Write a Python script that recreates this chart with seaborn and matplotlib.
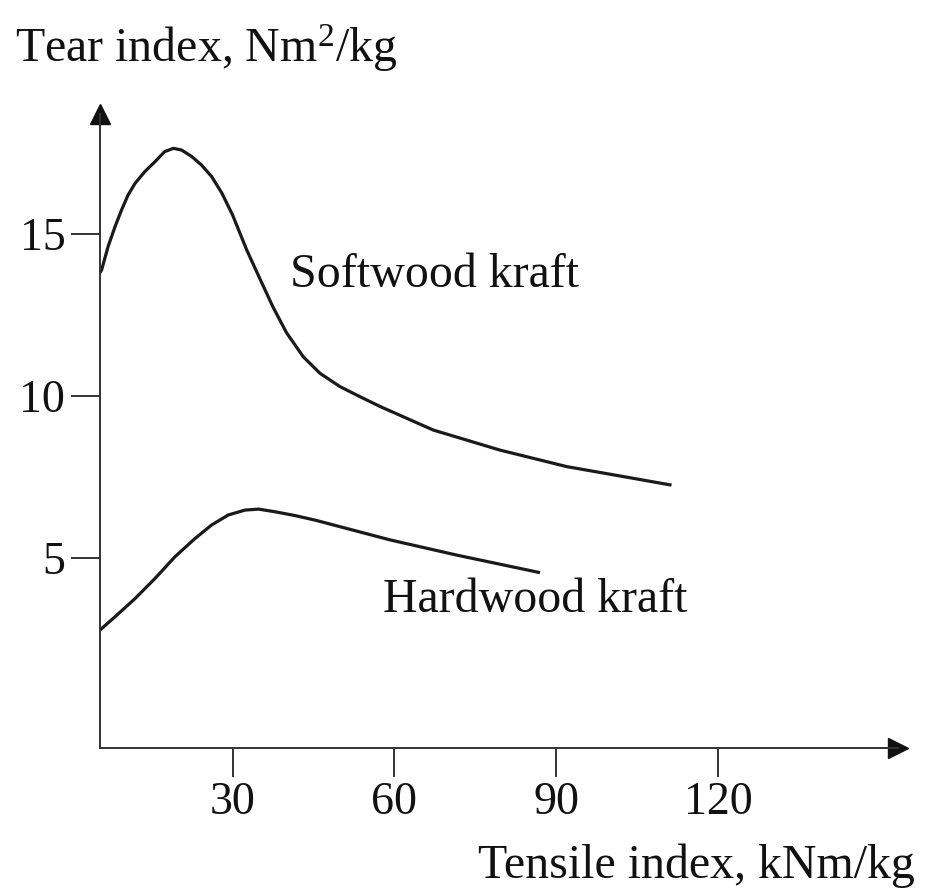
import matplotlib
matplotlib.use("Agg")
import matplotlib.pyplot as plt
import seaborn as sns
import pandas as pd

# values (tensile index kNm/kg, tear index Nm2/kg)
soft_x = [5.4, 5.7, 6.9, 8.2, 9.4, 10.6, 11.9, 13.7, 15.6, 17.4, 19.0, 20.5, 22.4, 24.2,
          26.1, 28.0, 30.0, 32.6, 35.1, 37.5, 40.0, 43.1, 46.2, 49.9, 53.6, 57.3,
          67.2, 79.6, 92.0, 104.3, 111.4]
soft_y = [13.8, 13.89, 14.61, 15.23, 15.74, 16.2, 16.56, 16.92, 17.23, 17.54, 17.64, 17.59,
          17.39, 17.13, 16.77, 16.26, 15.58, 14.51, 13.6, 12.74, 11.95, 11.21, 10.7,
          10.29, 9.98, 9.68, 8.95, 8.33, 7.82, 7.46, 7.25]
hard_x = [5.4, 8.2, 11.9, 15.6, 19.3, 23.0, 26.1, 29.2, 32.3, 34.8, 37.8, 41.6, 45.3,
          59.2, 71.6, 87.0]
hard_y = [2.78, 3.19, 3.75, 4.37, 5.04, 5.6, 6.02, 6.33, 6.48, 6.51, 6.43, 6.31, 6.17,
          5.56, 5.09, 4.55]

x_ticks = [30, 60, 90, 120]
y_ticks = [5, 10, 15]

soft = pd.DataFrame({"x": soft_x, "y": soft_y})
hard = pd.DataFrame({"x": hard_x, "y": hard_y})

sns.set_style("ticks")
plt.rcParams["font.family"] = ["Liberation Serif", "DejaVu Serif"]
plt.rcParams["mathtext.fontset"] = "custom"
plt.rcParams["mathtext.rm"] = "Liberation Serif"

fig = plt.figure(figsize=(9.25, 8.88), dpi=100)
ax = fig.add_axes([100 / 925, 140 / 888, 798 / 925, 634 / 888])

for d in (soft, hard):
    sns.lineplot(data=d, x="x", y="y", color="#1a1a1a", linewidth=2.3, ax=ax,
                 solid_joinstyle="round", solid_capstyle="butt")

ax.set_xlim(5.4, 153.4)
ax.set_ylim(-0.86, 18.7)
ax.set_xticks(x_ticks)
ax.set_yticks(y_ticks)
ax.tick_params(axis="both", labelsize=33, length=21, width=1.4, color="#333333",
               labelcolor="#111111")
ax.tick_params(axis="x", pad=3)
ax.tick_params(axis="y", pad=4)
for s in ["top", "right"]:
    ax.spines[s].set_visible(False)
for s in ["left", "bottom"]:
    ax.spines[s].set_linewidth(1.4)
    ax.spines[s].set_color("#333333")
ax.set_xlabel("")
ax.set_ylabel("")

# axis arrow heads
ax.plot(1, 0, ">", color="#111111", markersize=15, transform=ax.transAxes, clip_on=False)
ax.plot(0, 1, "^", color="#111111", markersize=15, transform=ax.transAxes, clip_on=False)

ax.text(40.6, 13.73, "Softwood kraft", fontsize=34.5, va="center", ha="left", color="#111111")
ax.text(57.9, 3.7, "Hardwood kraft", fontsize=34.5, va="center", ha="left", color="#111111")

fig.text(15 / 925, 1 - 62 / 888, r"Tear index, $\mathregular{Nm^2}$/kg", fontsize=34.5,
         ha="left", va="baseline", color="#111111")
fig.text(915 / 925, 1 - 878 / 888, "Tensile index, kNm/kg", fontsize=34.5,
         ha="right", va="baseline", color="#111111")

fig.savefig("out.png", dpi=100)
